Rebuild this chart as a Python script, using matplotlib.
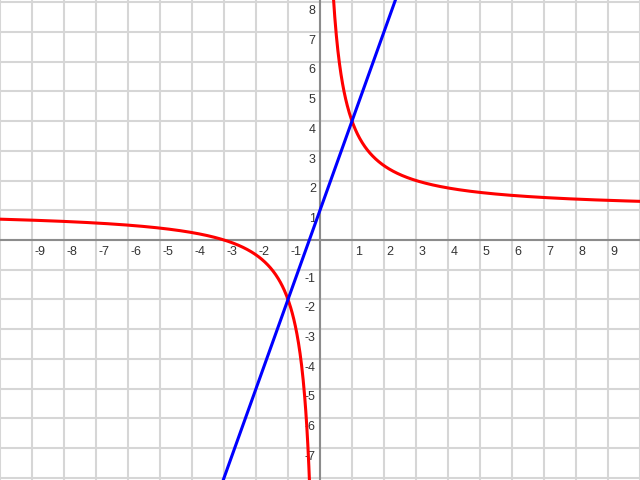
import numpy as np
import matplotlib.pyplot as plt

# function definitions
red_a, red_b = 1.0, 3.0      # y = a + b / x
blue_m, blue_c = 3.0, 1.0    # y = m * x + c
x_ticks = [-9, -8, -7, -6, -5, -4, -3, -2, -1, 1, 2, 3, 4, 5, 6, 7, 8, 9]
y_ticks = [-7, -6, -5, -4, -3, -2, -1, 1, 2, 3, 4, 5, 6, 7, 8]

fig = plt.figure(figsize=(6.4, 4.8), dpi=100)
ax = fig.add_axes([0, 0, 1, 1])
ax.set_xlim(-10, 10)
ax.set_ylim(-8.07, 8.07)
ax.axis('off')

# grid
for gx in range(-10, 11):
    ax.axvline(gx, color='#d6d6d6', lw=1.5, zorder=0)
for gy in range(-8, 9):
    ax.axhline(gy, color='#d6d6d6', lw=1.5, zorder=0)
ax.axhline(0, color='#8c8c8c', lw=1.5, zorder=1)
ax.axvline(0, color='#8c8c8c', lw=1.5, zorder=1)

# tick labels
for t in x_ticks:
    ax.annotate(str(t), (t, 0), xytext=(2, -4), textcoords='offset points',
                ha='left', va='top', fontsize=9, color='#333333',
                family='Liberation Sans')
for t in y_ticks:
    ax.annotate(str(t), (0, t), xytext=(-3, -2), textcoords='offset points',
                ha='right', va='top', fontsize=9, color='#333333',
                family='Liberation Sans')

# red hyperbola, two branches
xl = np.linspace(-10, -0.3, 600)
xr = np.linspace(0.3, 10, 600)
ax.plot(xl, red_a + red_b / xl, color='#ff0000', lw=2.2, zorder=3)
ax.plot(xr, red_a + red_b / xr, color='#ff0000', lw=2.2, zorder=3)

# blue line
xs = np.array([-10, 10])
ax.plot(xs, blue_m * xs + blue_c, color='#0000ff', lw=2.2, zorder=4)

fig.savefig('out.png', dpi=100)
